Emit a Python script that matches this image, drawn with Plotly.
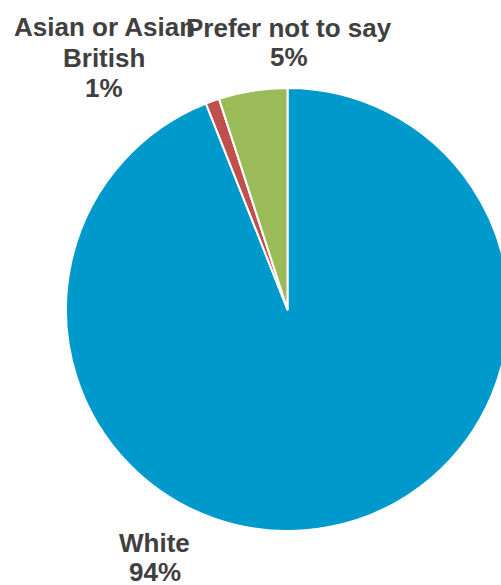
import plotly.graph_objects as go

# Data
labels = ["White", "Asian or Asian British", "Prefer not to say"]
values = [94, 1, 5]
label_lines = [["White"], ["Asian or Asian", "British"], ["Prefer not to say"]]
colors = ["#0099CC", "#C0504D", "#9BBB59"]

W, H = 510, 585

fig = go.Figure(go.Pie(
    labels=labels,
    values=values,
    sort=False,
    direction="clockwise",
    rotation=0,
    marker=dict(colors=colors, line=dict(color="white", width=2)),
    textinfo="none",
    hoverinfo="label+percent",
    showlegend=False,
    domain=dict(x=[66 / W, 509 / W], y=[54 / H, 497 / H]),
))

# label anchor positions (pixel centres of each text block's lines)
label_pos = {
    "White": (154.5, [543, 572]),
    "Asian or Asian British": (104, [27, 58, 88]),
    "Prefer not to say": (289, [28, 57]),
}

total = sum(values)
annotations = []
for lab, val, lines in zip(labels, values, label_lines):
    x_px, ys = label_pos[lab]
    texts = lines + [f"{round(100 * val / total)}%"]
    for t, y_px in zip(texts, ys):
        annotations.append(dict(
            text=f"<b>{t}</b>", x=x_px / W, y=1 - y_px / H,
            xref="paper", yref="paper", xanchor="center", yanchor="middle",
            showarrow=False,
            font=dict(family="Liberation Sans, Arial, sans-serif", size=26, color="#404040"),
        ))

fig.update_layout(
    width=W, height=H,
    margin=dict(l=0, r=0, t=0, b=0),
    paper_bgcolor="white",
    plot_bgcolor="white",
    annotations=annotations,
)

fig.write_html(
    "out.html",
    config={"displayModeBar": False},
    post_script="document.body.style.margin='0';document.body.style.overflow='hidden';",
)
